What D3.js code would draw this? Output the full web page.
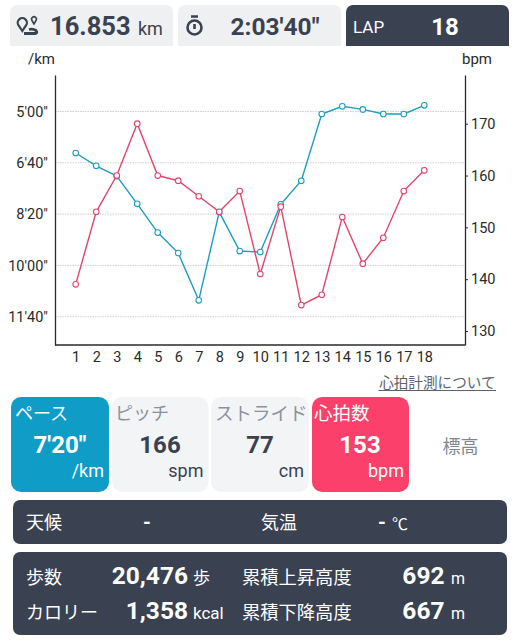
<!DOCTYPE html>
<html>
<head>
<meta charset="utf-8">
<script src="https://cdn.jsdelivr.net/npm/d3@7"></script>
<style>
  html, body { margin: 0; padding: 0; background: #fff; }
  svg { display: block; }
  text { font-family: Roboto, "Noto Sans CJK JP", sans-serif; }
</style>
</head>
<body>
<div id="chart"></div>
<script>
var laps = [1, 2, 3, 4, 5, 6, 7, 8, 9, 10, 11, 12, 13, 14, 15, 16, 17, 18];
// seconds per km
var pace = [381, 406, 426, 480, 536, 576, 668, 496, 572, 574, 481, 435, 305, 290, 296, 305, 305, 288];
var heartRate = [139, 153, 160, 170, 160, 159, 156, 153, 157, 141, 154, 135, 137, 152, 143, 148, 157, 161];
var paceTicks = [300, 400, 500, 600, 700];
var bpmTicks = [130, 140, 150, 160, 170];

var dark = '#3a4150';
var blue = '#1f9dbd';
var red = '#e0466f';
var axisColor = '#2a2a2a';

var svg = d3.select('#chart').append('svg')
  .attr('width', 520)
  .attr('height', 640);

function label(x, y, str, size, color, anchor, weight) {
  return svg.append('text')
    .attr('x', x)
    .attr('y', y)
    .attr('font-size', size)
    .attr('fill', color)
    .attr('text-anchor', anchor || 'start')
    .attr('font-weight', weight || 400)
    .text(str);
}

function panel(x, y, w, h, r, color) {
  svg.append('rect')
    .attr('x', x).attr('y', y)
    .attr('width', w).attr('height', h)
    .attr('rx', r).attr('fill', color);
}

// top row, corners are only round on top
function topCard(x, color) {
  svg.append('path')
    .attr('d', 'M' + x + ',46V12a7,7 0 0 1 7,-7H' + (x + 156) + 'a7,7 0 0 1 7,7V46Z')
    .attr('fill', color);
}
topCard(10, '#eff0f2');
topCard(178, '#eff0f2');
topCard(346, dark);

// route icon
var route = svg.append('g')
  .attr('fill', 'none')
  .attr('stroke', dark)
  .attr('stroke-width', 2.2);
route.append('path').attr('d', 'M22.3,31 L18.6,25.5 A4.6,4.6 0 1 1 26,25.5 Z');
route.append('path').attr('d', 'M34,24 L32,20.5 A2.4,2.4 0 1 1 36,20.5 Z').attr('stroke-width', 1.6);
route.append('path').attr('d', 'M24,33.5 H35 Q38,33 36,30.5 Q33,28.5 29,29.5').attr('stroke-width', 2.8);

// stopwatch icon
var watch = svg.append('g')
  .attr('fill', 'none')
  .attr('stroke', dark)
  .attr('stroke-width', 2.6);
watch.append('circle').attr('cx', 194.5).attr('cy', 27.5).attr('r', 7);
watch.append('path').attr('d', 'M191,16.5H198M194.5,24V29');

label(50, 35, '16.853', 25.5, dark, 'start', 700);
label(138, 35, 'km', 18, dark);
label(230.5, 35, "2:03'40\"", 24.5, dark, 'start', 700);
label(353, 33, 'LAP', 17, '#fff');
label(445, 35, '18', 24, '#fff', 'middle', 700);

label(28, 64, '/km', 15, axisColor);
label(462, 64, 'bpm', 15, axisColor);

// chart
var margin = { top: 75, right: 55, bottom: 295, left: 55 };
var width = 520 - margin.left - margin.right;
var height = 640 - margin.top - margin.bottom;

var g = svg.append('g')
  .attr('transform', 'translate(' + margin.left + ',' + margin.top + ')');

var x = d3.scalePoint().domain(laps).range([20.7, 369.3]);
var yPace = d3.scaleLinear().domain([229, 755]).range([0, height]);
var yBpm = d3.scaleLinear().domain([179.4, 127.3]).range([0, height]);

function formatPace(s) {
  var sec = s % 60;
  return Math.floor(s / 60) + "'" + (sec < 10 ? '0' : '') + sec + '"';
}

g.selectAll('.grid')
  .data(paceTicks)
  .enter().append('line')
  .attr('class', 'grid')
  .attr('x1', 0)
  .attr('x2', width)
  .attr('y1', function(d) { return yPace(d); })
  .attr('y2', function(d) { return yPace(d); })
  .attr('stroke', '#cfcfcf')
  .attr('stroke-width', 1)
  .attr('stroke-dasharray', '1.5,1');

var axisLeft = g.append('g')
  .call(d3.axisLeft(yPace).tickValues(paceTicks).tickFormat(formatPace).tickSize(0).tickPadding(7));
var axisRight = g.append('g')
  .attr('transform', 'translate(' + width + ',0)')
  .call(d3.axisRight(yBpm).tickValues(bpmTicks).tickSizeInner(3).tickSizeOuter(0).tickPadding(3));
var axisBottom = g.append('g')
  .attr('transform', 'translate(0,' + height + ')')
  .call(d3.axisBottom(x).tickSize(0).tickPadding(7));

// the point scale stops at the laps, the base line has to run the full width
axisBottom.select('.domain').remove();
axisBottom.append('line')
  .attr('class', 'domain')
  .attr('x1', 0)
  .attr('x2', width);

[axisLeft, axisRight, axisBottom].forEach(function(a) {
  a.selectAll('text')
    .attr('font-size', 14.5)
    .attr('fill', axisColor)
    .style('font-family', 'Roboto, sans-serif');
  a.selectAll('.domain').attr('stroke', axisColor).attr('stroke-width', 1.3);
  a.selectAll('.tick line').attr('stroke', axisColor);
});

function drawSeries(values, scale, color) {
  var line = d3.line()
    .x(function(d, i) { return x(laps[i]); })
    .y(function(d) { return scale(d); });
  g.append('path')
    .attr('d', line(values))
    .attr('fill', 'none')
    .attr('stroke', color)
    .attr('stroke-width', 1.4);
  g.selectAll(null)
    .data(values)
    .enter().append('circle')
    .attr('cx', function(d, i) { return x(laps[i]); })
    .attr('cy', function(d) { return scale(d); })
    .attr('r', 2.8)
    .attr('fill', '#fff')
    .attr('stroke', color)
    .attr('stroke-width', 1.1);
}
drawSeries(pace, yPace, blue);
drawSeries(heartRate, yBpm, red);

// link
label(495.5, 388, '心拍計測について', 14.6, '#5d6470', 'end');
svg.append('line')
  .attr('x1', 378.5).attr('x2', 496)
  .attr('y1', 390.5).attr('y2', 390.5)
  .attr('stroke', '#5d6470').attr('stroke-width', 1);

// metric cards
panel(11, 397, 98, 95, 10, '#0f9cc7');
panel(112, 397, 96.5, 95, 10, '#f2f4f6');
panel(211, 397, 98, 95, 10, '#f2f4f6');
panel(312, 397, 97, 95, 10, '#fb406c');

label(15, 420, 'ペース', 18, '#fff');
label(60, 453, "7'20\"", 24, '#fff', 'middle', 700);
label(104, 477, '/km', 18, '#fff', 'end');

label(115, 420, 'ピッチ', 18, '#8b929c');
label(160, 453, '166', 24, dark, 'middle', 700);
label(203.5, 477, 'spm', 18, dark, 'end');

label(215, 420, 'ストライド', 18.5, '#8b929c');
label(260, 453, '77', 24, dark, 'middle', 700);
label(304, 477, 'cm', 18, dark, 'end');

label(314, 420, '心拍数', 18.5, '#fff');
label(360, 453, '153', 24, '#fff', 'middle', 700);
label(404, 477, 'bpm', 18, '#fff', 'end');

label(460.5, 453, '標高', 18, '#7f8791', 'middle');

// weather
panel(13, 500, 494, 44, 7, dark);
label(26, 529, '天候', 18, '#fff');
label(147, 529, '-', 20, '#fff', 'middle', 700);
label(261, 529, '気温', 18, '#fff');
label(382, 529, '-', 20, '#fff', 'middle', 700);
label(392, 530, '℃', 16, '#fff');

// totals
panel(13, 552, 494, 83, 7, dark);
label(26, 584, '歩数', 18, '#fff');
label(188, 584, '20,476', 24.5, '#fff', 'end', 700);
label(193, 584, '歩', 17, '#fff');
label(26, 619, 'カロリー', 18, '#fff');
label(188, 619, '1,358', 24.5, '#fff', 'end', 700);
label(193, 619, 'kcal', 17, '#fff');
label(242, 584, '累積上昇高度', 18.3, '#fff');
label(444.5, 584, '692', 24.5, '#fff', 'end', 700);
label(451, 584, 'm', 16, '#fff');
label(242, 619, '累積下降高度', 18.3, '#fff');
label(444.5, 619, '667', 24.5, '#fff', 'end', 700);
label(451, 619, 'm', 16, '#fff');
</script>
</body>
</html>
